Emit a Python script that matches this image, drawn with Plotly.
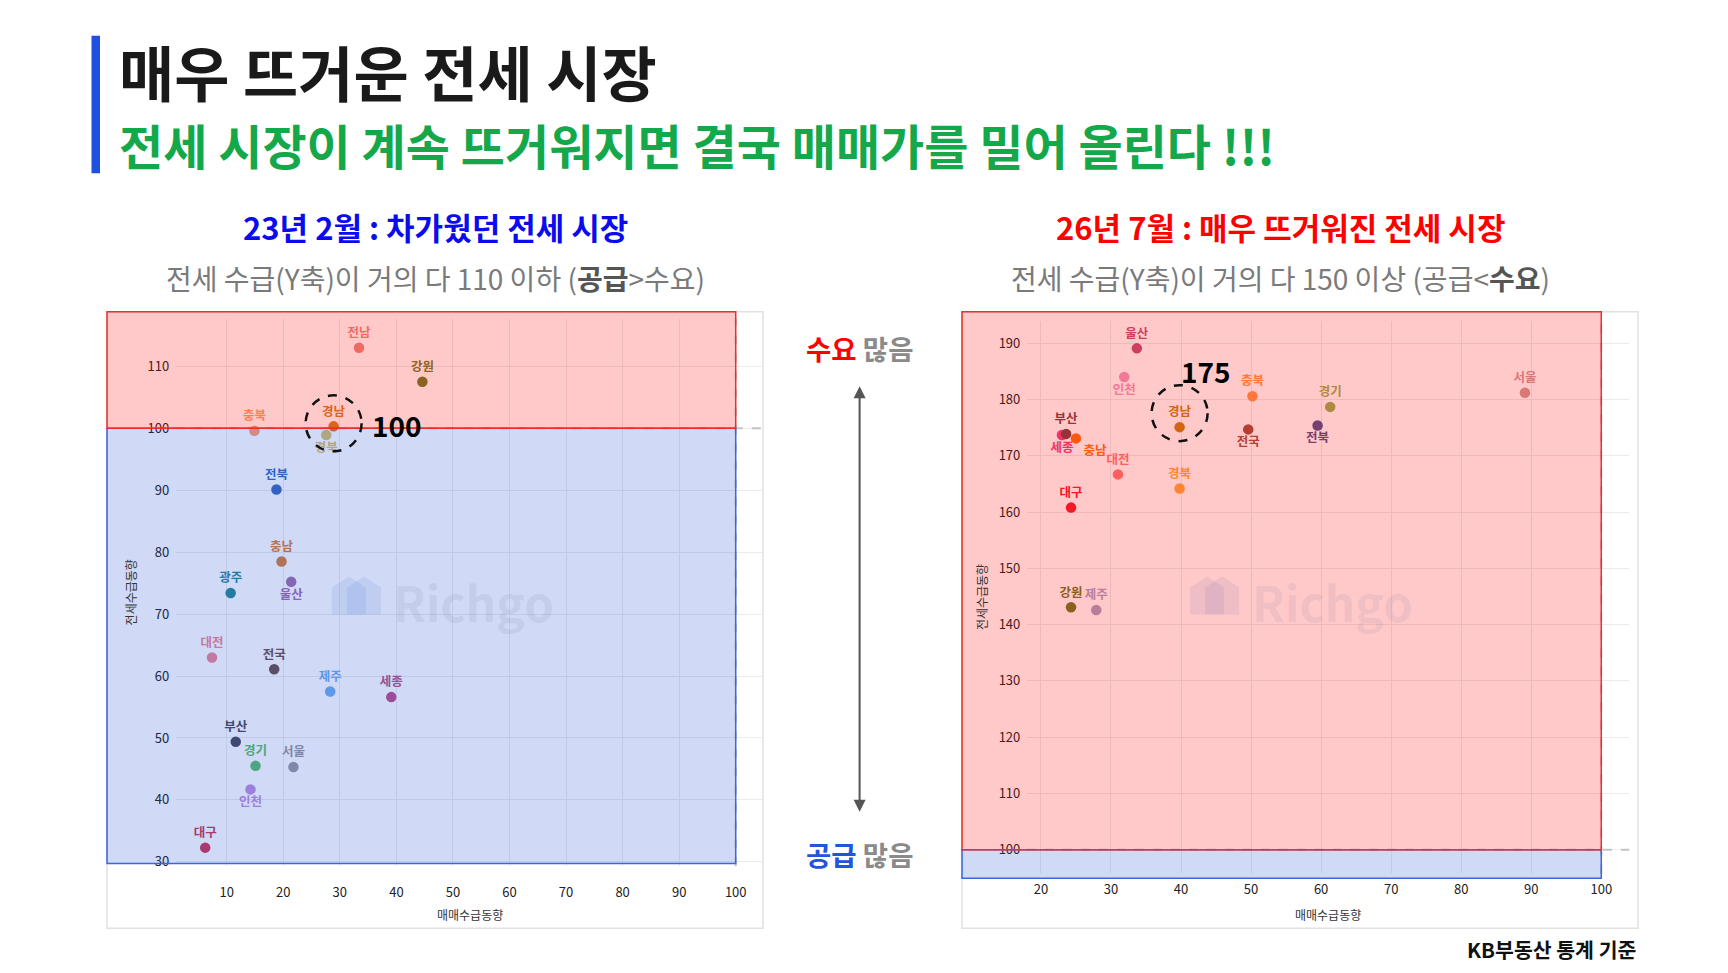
import plotly.graph_objects as go

W, H = 1728, 973
FONT = "Noto Sans CJK KR"

# ---------------- data ----------------
LEFT_REGIONS = ["전남", "강원", "충북", "경남", "경북", "전북", "충남", "울산", "광주",
                "대전", "전국", "제주", "세종", "부산", "경기", "서울", "인천", "대구"]
LEFT_X = [33.4, 44.6, 14.9, 28.9, 27.6, 18.8, 19.7, 21.4, 10.7,
          7.4, 18.4, 28.3, 39.1, 11.6, 15.1, 21.8, 14.2, 6.2]
LEFT_Y = [113.0, 107.5, 99.6, 100.3, 98.9, 90.1, 78.5, 75.2, 73.4,
          63.0, 61.1, 57.5, 56.6, 49.4, 45.5, 45.3, 41.7, 32.3]
LEFT_COLORS = ["#e8887a", "#6b7d2a", "#ffa070", "#d08020", "#d8c070", "#3b6cc0", "#d8803a",
               "#a070b0", "#2a8a9a", "#f08898", "#6e5050", "#70aef0", "#c0508a", "#4a4a5a",
               "#5cc070", "#9a9aa0", "#c090e0", "#d03858"]
LEFT_POS = ["top center", "top center", "top center", "top center", "bottom center",
            "top center", "top center", "bottom center", "top center", "top center",
            "top center", "top center", "top center", "top center", "top center",
            "top center", "bottom center", "top center"]

RIGHT_REGIONS = ["울산", "인천", "충북", "서울", "경기", "경남", "전북", "전국",
                 "세종", "부산", "충남", "대전", "경북", "대구", "강원", "제주"]
RIGHT_X = [33.7, 31.9, 50.2, 89.1, 61.3, 39.8, 59.5, 49.6,
           23.0, 23.6, 25.0, 31.0, 39.8, 24.3, 24.3, 27.9]
RIGHT_Y = [189.1, 184.0, 180.6, 181.2, 178.7, 175.1, 175.4, 174.7,
           173.7, 173.9, 173.1, 166.7, 164.2, 160.8, 143.1, 142.6]
RIGHT_COLORS = ["#c0507a", "#f098c0", "#ff9850", "#d09898", "#98b050", "#c88010", "#505090",
                "#a05040", "#f04080", "#7a4048", "#ff7010", "#ff7878", "#ffa840", "#f02030",
                "#6a7a28", "#a8a0c8"]
RIGHT_POS = ["top center", "bottom center", "top center", "top center", "top center",
             "top center", "bottom center", "bottom center", "bottom center", "top center",
             "bottom right", "top center", "top center", "top center", "top center",
             "top center"]

LEFT_XTICKS = [10, 20, 30, 40, 50, 60, 70, 80, 90, 100]
LEFT_YTICKS = [30, 40, 50, 60, 70, 80, 90, 100, 110]
RIGHT_XTICKS = [20, 30, 40, 50, 60, 70, 80, 90, 100]
RIGHT_YTICKS = [100, 110, 120, 130, 140, 150, 160, 170, 180, 190]

THRESHOLD = 100
HIGHLIGHT = "경남"
LEFT_NOTE = "100"
RIGHT_NOTE = "175"

TITLE = "매우 뜨거운 전세 시장"
SUBTITLE = "전세 시장이 계속 뜨거워지면 결국 매매가를 밀어 올린다 !!!"
LEFT_TITLE = "23년 2월 : 차가웠던 전세 시장"
LEFT_SUB = "전세 수급(Y축)이 거의 다 110 이하 (<b style='color:#555'>공급</b>&gt;수요)"
RIGHT_TITLE = "26년 7월 : 매우 뜨거워진 전세 시장"
RIGHT_SUB = "전세 수급(Y축)이 거의 다 150 이상 (공급&lt;<b style='color:#555'>수요</b>)"
X_TITLE = "매매수급동향"
Y_TITLE = "전세수급동향"
FOOTER = "KB부동산 통계 기준"

# ---------------- layout geometry (pixels) ----------------
L_XR, L_YR = [1, 105], [29.3, 117.7]
L_XD, L_YD = (175.8, 764.0), (869.8, 319.9)
R_XR, R_YR = [18, 104], [95.8, 194]
R_XD, R_YD = (1026.9, 1629.3), (877.0, 322.1)


def px(v):
    return v / W


def py(v):
    return 1 - v / H


def lin(v, rng, dom):
    return dom[0] + (v - rng[0]) / (rng[1] - rng[0]) * (dom[1] - dom[0])


fig = go.Figure()

fig.add_trace(go.Scatter(
    x=LEFT_X, y=LEFT_Y, text=["<b>%s</b>" % r for r in LEFT_REGIONS],
    mode="markers+text", textposition=LEFT_POS,
    marker=dict(size=10.5, color=LEFT_COLORS),
    textfont=dict(family=FONT, size=12.5, color=LEFT_COLORS),
    cliponaxis=False, xaxis="x", yaxis="y", showlegend=False))

fig.add_trace(go.Scatter(
    x=RIGHT_X, y=RIGHT_Y, text=["<b>%s</b>" % r for r in RIGHT_REGIONS],
    mode="markers+text", textposition=RIGHT_POS,
    marker=dict(size=10.5, color=RIGHT_COLORS),
    textfont=dict(family=FONT, size=12.5, color=RIGHT_COLORS),
    cliponaxis=False, xaxis="x2", yaxis="y2", showlegend=False))

axis_common = dict(showgrid=True, gridcolor="#ebebeb", gridwidth=1, zeroline=False,
                   showline=False, ticks="outside", tickcolor="rgba(0,0,0,0)",
                   tickfont=dict(family=FONT, size=13, color="#222"), fixedrange=True)

fig.update_layout(
    width=W, height=H, autosize=False,
    margin=dict(l=0, r=0, t=0, b=0, pad=0),
    paper_bgcolor="white", plot_bgcolor="white",
    font=dict(family=FONT),
    xaxis=dict(domain=[px(L_XD[0]), px(L_XD[1])], range=L_XR, tickvals=LEFT_XTICKS,
               anchor="y", ticklen=14, **axis_common),
    yaxis=dict(domain=[py(L_YD[0]), py(L_YD[1])], range=L_YR, tickvals=LEFT_YTICKS,
               anchor="x", ticklen=3, **axis_common),
    xaxis2=dict(domain=[px(R_XD[0]), px(R_XD[1])], range=R_XR, tickvals=RIGHT_XTICKS,
                anchor="y2", ticklen=4, **axis_common),
    yaxis2=dict(domain=[py(R_YD[0]), py(R_YD[1])], range=R_YR, tickvals=RIGHT_YTICKS,
                anchor="x2", ticklen=3, **axis_common),
)

shapes = []
# panel frames
for (x0, x1) in [(107, 763), (962, 1638)]:
    shapes.append(dict(type="rect", xref="paper", yref="paper", x0=px(x0), x1=px(x1),
                       y0=py(932), y1=py(313), line=dict(color="#e2e2e2", width=1.5),
                       fillcolor="rgba(0,0,0,0)", layer="below"))
# header bar
shapes.append(dict(type="rect", xref="paper", yref="paper", x0=px(91.5), x1=px(100),
                   y0=py(174), y1=py(36), line=dict(width=0), fillcolor="#2050e0"))

# watermark house icons
for cx, cy in [((L_XD[0] + L_XD[1]) / 2, 600), ((R_XD[0] + R_XD[1]) / 2, 600)]:
    for off in (0, 15):
        ox = cx - 138 + off
        path = "M {a},{b} L {a},{c} L {d},{e} L {f},{c} L {f},{b} Z".format(
            a=px(ox), b=py(cy + 17), c=py(cy - 10), d=px(ox + 17), e=py(cy - 21), f=px(ox + 34))
        shapes.append(dict(type="path", xref="paper", yref="paper", path=path,
                           fillcolor="rgba(140,170,235,0.18)", line=dict(width=0), layer="above"))

# dashed reference lines at 100
for xa, ya in [("x", "y"), ("x2", "y2")]:
    shapes.append(dict(type="line", xref=xa, yref=ya + " domain", x0=THRESHOLD, x1=THRESHOLD,
                       y0=0, y1=1, line=dict(color="#c4c4c4", width=2, dash="dash"), layer="above"))
    shapes.append(dict(type="line", xref=xa + " domain", yref=ya, x0=0, x1=1,
                       y0=THRESHOLD, y1=THRESHOLD, line=dict(color="#c4c4c4", width=2, dash="dash"),
                       layer="above"))

# red / blue overlay zones
for left_px, xr, xd, yr, yd, bottom_px in [(107, L_XR, L_XD, L_YR, L_YD, 867),
                                           (962, R_XR, R_XD, R_YR, R_YD, 882)]:
    xe = lin(THRESHOLD, xr, xd)
    ye = lin(THRESHOLD, yr, yd)
    shapes.append(dict(type="rect", xref="paper", yref="paper", x0=px(left_px), x1=px(xe),
                       y0=py(bottom_px), y1=py(ye), fillcolor="rgba(20,65,205,0.2)",
                       line=dict(color="#3a66e0", width=1.5), layer="above"))
    shapes.append(dict(type="rect", xref="paper", yref="paper", x0=px(left_px), x1=px(xe),
                       y0=py(ye), y1=py(313), fillcolor="rgba(255,0,0,0.21)",
                       line=dict(color="#e83030", width=1.5), layer="above"))

# dashed highlight circles
li = LEFT_REGIONS.index(HIGHLIGHT)
ri = RIGHT_REGIONS.index(HIGHLIGHT)
shapes.append(dict(type="circle", xref="x", yref="y", xsizemode="pixel", ysizemode="pixel",
                   xanchor=LEFT_X[li], yanchor=LEFT_Y[li], x0=-28, x1=28, y0=-25, y1=31,
                   line=dict(color="#111", width=2.5, dash="dash"), layer="above"))
shapes.append(dict(type="circle", xref="x2", yref="y2", xsizemode="pixel", ysizemode="pixel",
                   xanchor=RIGHT_X[ri], yanchor=RIGHT_Y[ri], x0=-28, x1=28, y0=-14, y1=42,
                   line=dict(color="#111", width=2.5, dash="dash"), layer="above"))
fig.update_layout(shapes=shapes)

ann = []


def text_ann(x, y, text, size, color="#111", xanchor="center", **kw):
    d = dict(xref="paper", yref="paper", x=px(x), y=py(y), text=text, showarrow=False,
             xanchor=xanchor, yanchor="middle",
             font=dict(family=FONT, size=size, color=color))
    d.update(kw)
    ann.append(d)


text_ann(117, 71, "<b>%s</b>" % TITLE, 60, "#1a1a1a", xanchor="left")
text_ann(117, 145, "<b>%s</b>" % SUBTITLE, 48, "#14a84a", xanchor="left")
text_ann(435, 227, "<b>%s</b>" % LEFT_TITLE, 31, "#0b0bf0")
text_ann(435, 279, LEFT_SUB, 28, "#7a7a7a")
text_ann(1280, 227, "<b>%s</b>" % RIGHT_TITLE, 31, "#ff0000")
text_ann(1280, 279, RIGHT_SUB, 28, "#7a7a7a")
text_ann(859.6, 349, "<b><span style='color:#ff0000'>수요</span> <span style='color:#8a8a8a'>많음</span></b>", 27.5)
text_ann(859.6, 858, "<b><span style='color:#2255dd'>공급</span> <span style='color:#8a8a8a'>많음</span></b>", 27.5)
text_ann(1638, 953, "<b>%s</b>" % FOOTER, 20.5, "#111", xanchor="right")

# axis titles
for xd, yd, yt_x, xt_y in [(L_XD, L_YD, 130, 918), (R_XD, R_YD, 981, 918)]:
    text_ann((xd[0] + xd[1]) / 2, xt_y, X_TITLE, 12, "#333")
    text_ann(yt_x, (yd[0] + yd[1]) / 2, Y_TITLE, 12, "#333", textangle=-90)

# watermarks
for xd in (L_XD, R_XD):
    text_ann((xd[0] + xd[1]) / 2 + 4, 603, "<b>Richgo</b>", 48, "rgba(90,100,140,0.10)")

# double arrow
ann.append(dict(xref="paper", yref="paper", x=px(859.6), y=py(815), ax=0, ay=-427,
                axref="pixel", ayref="pixel", text="", showarrow=True, arrowhead=2,
                startarrowhead=2, arrowside="end+start", arrowsize=1.2, arrowwidth=2,
                arrowcolor="#555"))

# circle notes
ann.append(dict(xref="x", yref="y", x=LEFT_X[li], y=LEFT_Y[li], xshift=63, yshift=1,
                text="<b>%s</b>" % LEFT_NOTE, showarrow=False,
                font=dict(family=FONT, size=28, color="#000")))
ann.append(dict(xref="x2", yref="y2", x=RIGHT_X[ri], y=RIGHT_Y[ri], xshift=26, yshift=56,
                text="<b>%s</b>" % RIGHT_NOTE, showarrow=False,
                font=dict(family=FONT, size=28, color="#000")))

fig.update_layout(annotations=ann)
fig.write_html("out.html")
